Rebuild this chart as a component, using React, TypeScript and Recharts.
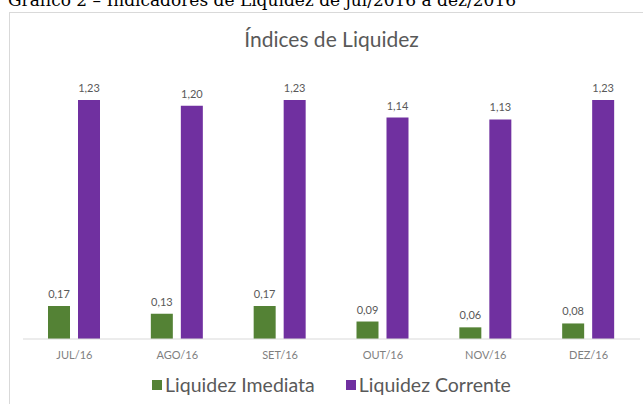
import { BarChart, Bar, XAxis, YAxis, Legend, LabelList } from 'recharts';

const months = ['JUL/16', 'AGO/16', 'SET/16', 'OUT/16', 'NOV/16', 'DEZ/16'];
const liquidezImediata = [0.17, 0.13, 0.17, 0.09, 0.06, 0.08];
const liquidezCorrente = [1.23, 1.2, 1.23, 1.14, 1.13, 1.23];

const GREEN = '#548235';
const PURPLE = '#7030a0';
const FONT = 'Lato, "Open Sans", sans-serif';

const data = months.map((m, i) => ({
  month: m,
  imediata: liquidezImediata[i],
  corrente: liquidezCorrente[i],
}));

const fmt = (v: unknown) => Number(v).toFixed(2).replace('.', ',');

const legendItems = [
  { label: 'Liquidez Imediata', color: GREEN },
  { label: 'Liquidez Corrente', color: PURPLE },
];

function LegendContent() {
  return (
    <div
      style={{
        display: 'flex',
        justifyContent: 'center',
        alignItems: 'center',
        height: 24,
        fontFamily: FONT,
        fontSize: 19.5,
        color: '#595959',
        lineHeight: '24px',
      }}
    >
      {legendItems.map((it, i) => (
        <div
          key={it.label}
          style={{ display: 'flex', alignItems: 'center', marginLeft: i === 0 ? 0 : 31 }}
        >
          <span style={{ width: 10, height: 10, background: it.color, marginRight: 3 }} />
          <span>{it.label}</span>
        </div>
      ))}
    </div>
  );
}

export default function App() {
  return (
    <div
      style={{
        position: 'absolute',
        left: 0,
        top: 0,
        width: 643,
        height: 404,
        overflow: 'hidden',
        background: '#fff',
      }}
    >
      <svg width={643} height={404} style={{ position: 'absolute', left: 0, top: 0 }}>
        {/* caption is cut at the top edge in the source image as well */}
        <text x={8} y={6} fontFamily='"DejaVu Serif", serif' fontSize={17} fill="#000">
          Gráfico 2 – Indicadores de Liquidez de jul/2016 a dez/2016
        </text>
        <rect x={9.5} y={12.5} width={700} height={500} fill="none" stroke="#d9d9d9" />
        <text
          x={331.5}
          y={47}
          textAnchor="middle"
          fontFamily={FONT}
          fontSize={21}
          fill="#595959"
        >
          Índices de Liquidez
        </text>
      </svg>
      <div style={{ position: 'absolute', left: 0, top: 0 }}>
        <BarChart
          width={643}
          height={404}
          data={data}
          margin={{ top: 67, right: 3, left: 23, bottom: 7 }}
          barGap={8}
        >
          <XAxis
            dataKey="month"
            axisLine={{ stroke: '#d9d9d9' }}
            tickLine={false}
            tickSize={0}
            tickMargin={12}
            height={34}
            tick={{ fill: '#7f7f7f', fontSize: 11, fontFamily: FONT }}
          />
          <YAxis hide domain={[0, 1.4]} />
          <Legend verticalAlign="bottom" content={() => <LegendContent />} />
          <Bar dataKey="imediata" fill={GREEN} barSize={22} isAnimationActive={false}>
            <LabelList
              dataKey="imediata"
              position="top"
              offset={8}
              formatter={fmt}
              style={{ fill: '#595959', fontSize: 11, fontFamily: FONT }}
            />
          </Bar>
          <Bar dataKey="corrente" fill={PURPLE} barSize={22} isAnimationActive={false}>
            <LabelList
              dataKey="corrente"
              position="top"
              offset={8}
              formatter={fmt}
              style={{ fill: '#595959', fontSize: 11, fontFamily: FONT }}
            />
          </Bar>
        </BarChart>
      </div>
    </div>
  );
}
